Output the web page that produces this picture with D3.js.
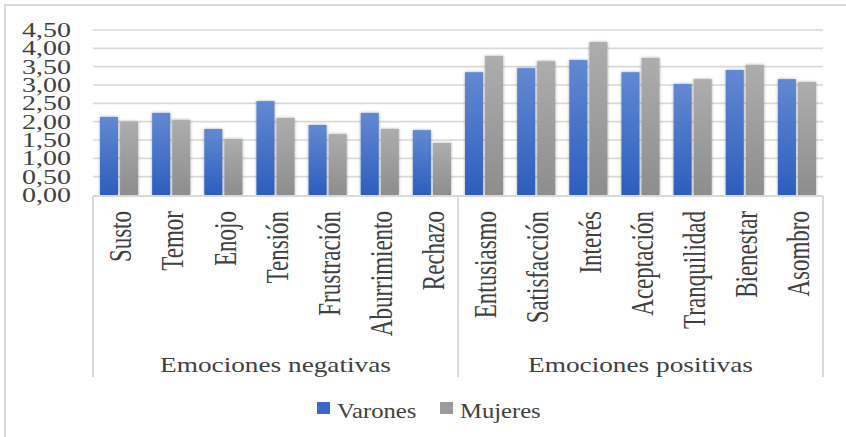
<!DOCTYPE html>
<html>
<head>
<meta charset="utf-8">
<script src="https://cdn.jsdelivr.net/npm/d3@7"></script>
<style>
  body { margin: 0; background: #fff; }
  text { font-family: "Liberation Serif", "Times New Roman", serif; fill: #404040; }
</style>
</head>
<body>
<svg id="chart" width="846" height="437"></svg>
<script>
// data
const categories = ["Susto", "Temor", "Enojo", "Tensión", "Frustración", "Aburrimiento", "Rechazo",
                    "Entusiasmo", "Satisfacción", "Interés", "Aceptación", "Tranquilidad", "Bienestar", "Asombro"];
const groups = [
    {name: "Emociones negativas", from: 0, to: 7},
    {name: "Emociones positivas", from: 7, to: 14}
];
const seriesNames = ["Varones", "Mujeres"];
const varones = [2.13, 2.24, 1.80, 2.56, 1.91, 2.24, 1.77, 3.35, 3.46, 3.68, 3.35, 3.03, 3.41, 3.16];
const mujeres = [2.00, 2.05, 1.53, 2.10, 1.66, 1.80, 1.42, 3.79, 3.65, 4.17, 3.74, 3.16, 3.55, 3.08];
const yTicks = [0, 0.5, 1, 1.5, 2, 2.5, 3, 3.5, 4, 4.5];

const svg = d3.select("#chart");
const width = 846, height = 437;
const margin = {top: 30, right: 23, bottom: 242, left: 93};
const plotBottom = 195;
const boxBottom = 377;

const fmt = v => d3.format(".2f")(v).replace(".", ",");

// gradients + shadow
const defs = svg.append("defs");
const blueGrad = defs.append("linearGradient").attr("id", "gBlue").attr("x1", 0).attr("y1", 0).attr("x2", 0).attr("y2", 1);
blueGrad.append("stop").attr("offset", "0%").attr("stop-color", "#6289d2");
blueGrad.append("stop").attr("offset", "100%").attr("stop-color", "#2c5ebd");
const grayGrad = defs.append("linearGradient").attr("id", "gGray").attr("x1", 0).attr("y1", 0).attr("x2", 0).attr("y2", 1);
grayGrad.append("stop").attr("offset", "0%").attr("stop-color", "#adadad");
grayGrad.append("stop").attr("offset", "100%").attr("stop-color", "#8d8d8d");
const shadow = defs.append("filter").attr("id", "shadow").attr("x", "-30%").attr("y", "-10%").attr("width", "160%").attr("height", "120%");
shadow.append("feDropShadow").attr("dx", 0).attr("dy", 0).attr("stdDeviation", 1.6)
    .attr("flood-color", "#000").attr("flood-opacity", 0.35);

const colors = {Varones: "url(#gBlue)", Mujeres: "url(#gGray)"};
const swatch = {Varones: "#3a68c4", Mujeres: "#9b9b9b"};

// outer frame (right/bottom edges fall outside the picture)
svg.append("rect")
    .attr("x", 5).attr("y", 5)
    .attr("width", 845).attr("height", 436)
    .attr("fill", "none")
    .attr("stroke", "#d9d9d9")
    .attr("stroke-width", 2);

// scales
const x0 = d3.scaleBand()
    .domain(categories)
    .range([margin.left, width - margin.right])
    .padding(0);

const x1 = d3.scaleBand()
    .domain(seriesNames)
    .range([7, x0.bandwidth() - 7])
    .paddingInner(0.1);

const y = d3.scaleLinear()
    .domain([0, 4.5])
    .range([plotBottom, margin.top]);

// gridlines
svg.append("g")
    .selectAll("line")
    .data(yTicks.slice(1))
    .join("line")
    .attr("x1", margin.left)
    .attr("x2", width - margin.right)
    .attr("y1", d => y(d))
    .attr("y2", d => y(d))
    .attr("stroke", "#d9d9d9")
    .attr("stroke-width", 1.6);

// y labels (picture is stretched horizontally)
svg.append("g")
    .selectAll("text")
    .data(yTicks)
    .join("text")
    .attr("transform", d => `translate(71,${y(d)}) scale(1.4,1)`)
    .attr("dy", "0.35em")
    .attr("text-anchor", "end")
    .attr("font-size", "20px")
    .text(fmt);

// bars
const rows = categories.map((c, i) => ({cat: c, Varones: varones[i], Mujeres: mujeres[i]}));
svg.append("g")
    .selectAll("g")
    .data(rows)
    .join("g")
    .attr("transform", d => `translate(${x0(d.cat)},0)`)
    .selectAll("rect")
    .data(d => seriesNames.map(s => ({key: s, value: d[s]})))
    .join("rect")
    .attr("x", d => x1(d.key))
    .attr("y", d => y(d.value))
    .attr("width", x1.bandwidth())
    .attr("height", d => y(0) - y(d.value))
    .attr("fill", d => colors[d.key])
    .attr("filter", "url(#shadow)");

// category axis box
const axisG = svg.append("g").attr("stroke", "#d9d9d9").attr("stroke-width", 2);
axisG.append("line")
    .attr("x1", margin.left).attr("x2", width - margin.right)
    .attr("y1", plotBottom + 1).attr("y2", plotBottom + 1);
const edges = [0].concat(groups.map(g => g.to));
axisG.selectAll(".sep")
    .data(edges)
    .join("line")
    .attr("class", "sep")
    .attr("x1", i => i < categories.length ? x0(categories[i]) : x0.range()[1])
    .attr("x2", i => i < categories.length ? x0(categories[i]) : x0.range()[1])
    .attr("y1", plotBottom + 1)
    .attr("y2", boxBottom);

// category labels, rotated
svg.append("g")
    .selectAll("text")
    .data(categories)
    .join("text")
    .attr("transform", d => `translate(${x0(d) + x0.bandwidth() / 2 + 1},211) scale(1.4,1) rotate(-90)`)
    .attr("dy", "0.35em")
    .attr("text-anchor", "end")
    .attr("font-size", "23px")
    .text(d => d);

// group labels
svg.append("g")
    .selectAll("text")
    .data(groups)
    .join("text")
    .attr("transform", g => {
        const a = x0(categories[g.from]);
        const b = g.to < categories.length ? x0(categories[g.to]) : x0.range()[1];
        return `translate(${(a + b) / 2},372) scale(1.24,1)`;
    })
    .attr("text-anchor", "middle")
    .attr("font-size", "22px")
    .text(g => g.name);

// legend
const legendX = [317, 440];
const legend = svg.append("g")
    .selectAll("g")
    .data(seriesNames)
    .join("g")
    .attr("transform", (d, i) => `translate(${legendX[i]},402)`);
legend.append("rect")
    .attr("width", 13)
    .attr("height", 12)
    .attr("fill", d => swatch[d]);
legend.append("text")
    .attr("transform", "translate(20,16) scale(1.12,1)")
    .attr("font-size", "22px")
    .text(d => d);
</script>
</body>
</html>
